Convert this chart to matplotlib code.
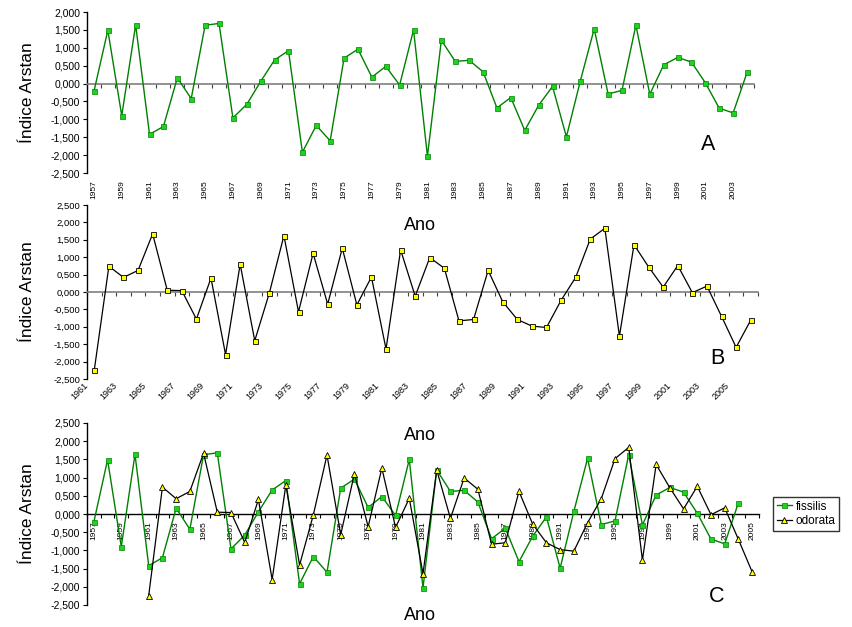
import matplotlib
matplotlib.use("Agg")
import matplotlib.pyplot as plt
from matplotlib.ticker import FuncFormatter, MultipleLocator
from matplotlib.transforms import ScaledTranslation
import numpy as np

plt.rcParams['font.family'] = ['Liberation Sans', 'DejaVu Sans']

# ---------------- data ----------------
fissilis_years = list(range(1957, 2005))
fissilis = [-0.22, 1.49, -0.90, 1.64, -1.42, -1.20, 0.16, -0.42, 1.63, 1.68,
            -0.96, -0.58, 0.06, 0.66, 0.92, -1.92, -1.17, -1.60, 0.71, 0.96,
            0.18, 0.48, -0.04, 1.50, -2.03, 1.21, 0.62, 0.65, 0.33, -0.68,
            -0.39, -1.31, -0.61, -0.08, -1.49, 0.07, 1.53, -0.29, -0.19, 1.63,
            -0.30, 0.52, 0.73, 0.60, 0.02, -0.69, -0.82, 0.31]

odorata_years = list(range(1961, 2007))
odorata = [-2.24, 0.74, 0.42, 0.62, 1.67, 0.05, 0.04, -0.78, 0.40, -1.80,
           0.80, -1.40, -0.03, 1.62, -0.57, 1.11, -0.35, 1.26, -0.37, 0.43,
           -1.64, 1.21, -0.12, 0.99, 0.68, -0.83, -0.79, 0.62, -0.28, -0.79,
           -0.98, -1.02, -0.24, 0.42, 1.52, 1.83, -1.27, 1.36, 0.72, 0.14,
           0.76, -0.02, 0.17, -0.70, -1.59, -0.81]

# panel C uses the odorata series up to 2005 on a 1957-2005 axis
c_years = list(range(1957, 2006))
c_odorata_years = odorata_years[:-1]
c_odorata = odorata[:-1]

ylabel = "Índice Arstan"
xlabel = "Ano"
legend_labels = ["fissilis", "odorata"]
panel_letters = ["A", "B", "C"]

GREEN_LINE = "#008000"
GREEN_FACE = "#1ed21e"
YELLOW = "#ffff00"

fmt = FuncFormatter(lambda v, p: f"{v:.3f}".replace('.', ','))

W, H = 853, 627
fig = plt.figure(figsize=(W / 100, H / 100), dpi=100)


def px_axes(l, t, r, b):
    return fig.add_axes([l / W, 1 - b / H, (r - l) / W, (b - t) / H])


def style_y(ax, lo, hi, fs):
    ax.set_ylim(lo, hi)
    ax.yaxis.set_major_locator(MultipleLocator(0.5))
    ax.yaxis.set_major_formatter(fmt)
    ax.tick_params(axis='y', direction='out', length=3, width=0.8,
                   labelsize=fs, pad=2, colors='black')
    ax.spines['left'].set_linewidth(1.0)
    ax.spines['left'].set_color('black')
    ax.spines['right'].set_visible(False)


# ---------------- Panel A ----------------
axA = px_axes(87, 12, 754, 173)
style_y(axA, -2.5, 2.0, 7.5)
axA.set_xlim(fissilis_years[0] - 0.5, fissilis_years[-1] + 0.5)
axA.plot(fissilis_years, fissilis, color=GREEN_LINE, lw=1.0, marker='s',
         ms=3.6, mfc=GREEN_FACE, mec=GREEN_LINE, mew=0.5, zorder=3)
axA.spines['bottom'].set_visible(False)
axA.spines['top'].set_position(('data', 0))
axA.spines['top'].set_color('#7f7f7f')
axA.spines['top'].set_linewidth(1.2)
axA.set_xticks(fissilis_years[::2])
axA.set_xticklabels([str(y) for y in fissilis_years[::2]], rotation=90,
                    ha='center', va='top')
axA.set_xticks(np.arange(fissilis_years[0] - 0.5, fissilis_years[-1] + 1.0, 1.0), minor=True)
axA.tick_params(axis='x', which='major', length=0, top=False, bottom=True,
                labelsize=6, pad=5)
axA.tick_params(axis='x', which='minor', length=3, width=0.8, top=True,
                bottom=False, direction='in', color='#404040')
axA.yaxis.set_label_coords(-0.078, 0.5)

# ---------------- Panel B ----------------
axB = px_axes(87, 205, 758, 379)
style_y(axB, -2.5, 2.5, 6.8)
axB.set_xlim(odorata_years[0] - 0.5, odorata_years[-1] + 0.5)
axB.plot(odorata_years, odorata, color='black', lw=0.9, marker='s',
         ms=3.6, mfc=YELLOW, mec='black', mew=0.6, zorder=3)
axB.spines['bottom'].set_visible(False)
axB.spines['top'].set_position(('data', 0))
axB.spines['top'].set_color('#7f7f7f')
axB.spines['top'].set_linewidth(1.2)
axB.set_xticks(odorata_years[::2])
axB.set_xticklabels([str(y) for y in odorata_years[::2]], rotation=45,
                    ha='right', va='center', rotation_mode='anchor')
axB.set_xticks(np.arange(odorata_years[0] - 0.5, odorata_years[-1] + 1.0, 1.0), minor=True)
axB.tick_params(axis='x', which='major', length=0, top=False, bottom=True,
                labelsize=6.5, pad=3.5)
axB.tick_params(axis='x', which='minor', length=3, width=0.8, top=True,
                bottom=False, direction='in', color='#404040')
offB = ScaledTranslation(-8 / 100, 0, fig.dpi_scale_trans)
for lbl in axB.get_xticklabels():
    lbl.set_transform(lbl.get_transform() + offB)
axB.yaxis.set_label_coords(-0.078, 0.5)

# ---------------- Panel C ----------------
axC = px_axes(87, 423, 759, 605)
style_y(axC, -2.5, 2.5, 7.5)
axC.set_xlim(c_years[0] - 0.5, c_years[-1] + 0.5)
lf, = axC.plot(fissilis_years, fissilis, color=GREEN_LINE, lw=1.0, marker='s',
               ms=3.6, mfc=GREEN_FACE, mec=GREEN_LINE, mew=0.5, zorder=3)
lo, = axC.plot(c_odorata_years, c_odorata, color='black', lw=0.9, marker='^',
               ms=4.2, mfc=YELLOW, mec='black', mew=0.6, zorder=4)
axC.spines['top'].set_visible(False)
axC.spines['bottom'].set_position(('data', 0))
axC.spines['bottom'].set_color('black')
axC.spines['bottom'].set_linewidth(1.0)
axC.set_xticks(c_years[::2])
axC.set_xticklabels([str(y) for y in c_years[::2]], rotation=90,
                    ha='center', va='top')
axC.set_xticks(np.arange(c_years[0] - 0.5, c_years[-1] + 1.0, 1.0), minor=True)
axC.tick_params(axis='x', which='major', length=0, labelsize=6, pad=5)
axC.tick_params(axis='x', which='minor', length=3, width=0.8, direction='out',
                color='black')
axC.yaxis.set_label_coords(-0.078, 0.418)

for ax in (axA, axB, axC):
    ax.set_ylabel(ylabel, fontsize=12.5)
    ax.patch.set_alpha(0)

leg = fig.legend([lf, lo], legend_labels, loc='upper left',
                 bbox_to_anchor=(773 / W, 1 - 497 / H), fontsize=8.5,
                 frameon=True, fancybox=False, edgecolor='black',
                 handlelength=1.3, handletextpad=0.3, borderpad=0.3,
                 labelspacing=0.25, borderaxespad=0)
leg.get_frame().set_linewidth(1.0)

# "Ano" labels
for yc in (225, 436, 616):
    fig.text(420 / W, 1 - yc / H, xlabel, ha='center', va='center', fontsize=13)

# panel letters
for (xc, yc), letter in zip([(708, 145), (717, 358), (717, 597)], panel_letters):
    fig.text(xc / W, 1 - yc / H, letter, ha='center', va='center', fontsize=15.5)

fig.savefig("out.png", dpi=100)
